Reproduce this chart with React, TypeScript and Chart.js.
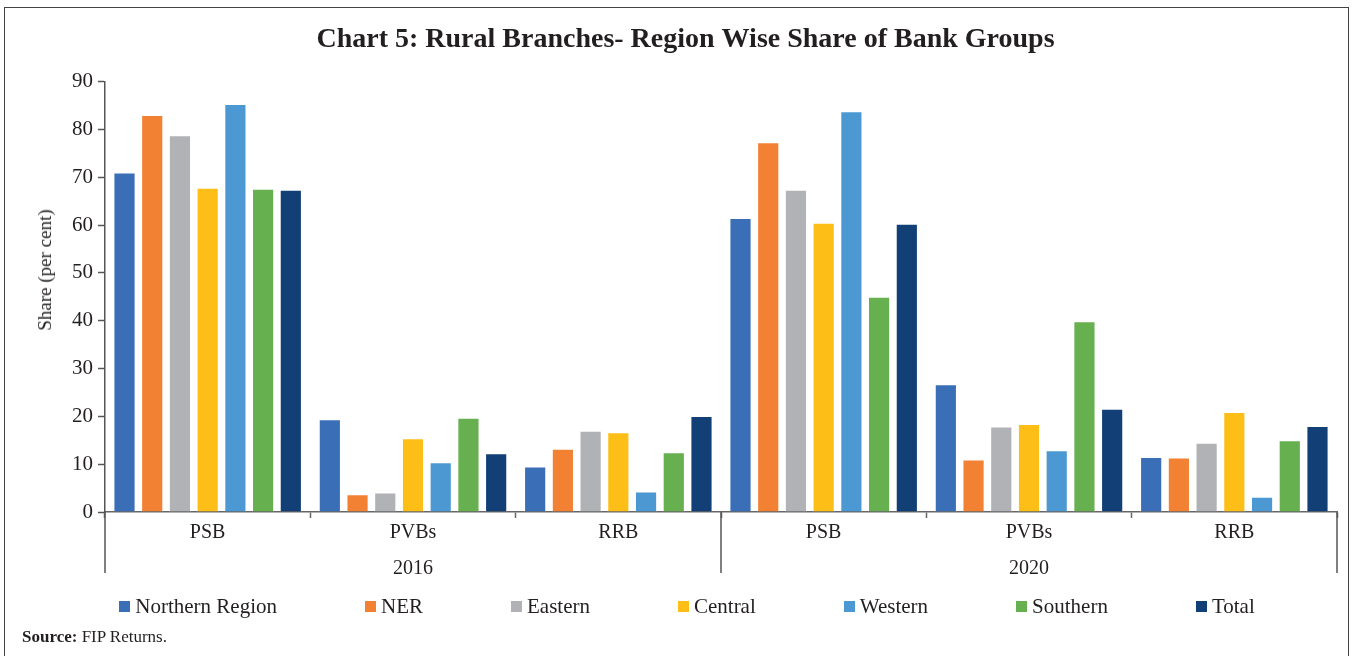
import React, { useEffect, useRef } from 'react';
import { Chart, registerables } from 'chart.js';

Chart.register(...registerables);

const years = ['2016', '2020'];
const bankGroups = ['PSB', 'PVBs', 'RRB'];
const categories = ['PSB', 'PVBs', 'RRB', 'PSB', 'PVBs', 'RRB'];

const seriesNames = ['Northern Region', 'NER', 'Eastern', 'Central', 'Western', 'Southern', 'Total'];
const seriesColors = ['#3A6FB7', '#F28133', '#B1B2B5', '#FDBE18', '#4C98D2', '#66B04F', '#133F77'];

// order: 2016 PSB, PVBs, RRB, 2020 PSB, PVBs, RRB
const northern = [71.0, 19.4, 9.5, 61.5, 26.7, 11.5];
const ner = [83.0, 3.7, 13.2, 77.3, 11.0, 11.4];
const eastern = [78.8, 4.1, 17.0, 67.4, 17.9, 14.5];
const central = [67.8, 15.4, 16.7, 60.5, 18.4, 20.9];
const western = [85.3, 10.4, 4.3, 83.8, 12.9, 3.2];
const southern = [67.6, 19.7, 12.5, 45.0, 39.9, 15.0];
const total = [67.4, 12.3, 20.1, 60.3, 21.6, 18.0];

const seriesValues = [northern, ner, eastern, central, western, southern, total];

const yMin = 0;
const yMax = 90;
const yStep = 10;

const TEXT = '#231f20';
const FONT = "'Liberation Serif', 'Times New Roman', serif";

const groupLines = {
  id: 'groupLines',
  afterDraw(chart: any) {
    const x = chart.scales.x;
    const y = chart.scales.y;
    const x2 = chart.scales.x2;
    const ctx = chart.ctx;
    const per = bankGroups.length;
    ctx.save();
    ctx.strokeStyle = '#555';
    ctx.lineWidth = 1.5;
    for (let g = 0; g <= years.length; g++) {
      const px = x.getPixelForValue(g * per - 0.5);
      ctx.beginPath();
      ctx.moveTo(px, y.bottom);
      ctx.lineTo(px, x2.bottom - 9);
      ctx.stroke();
    }
    ctx.restore();
  },
};

export default function App() {
  const canvasRef = useRef<HTMLCanvasElement | null>(null);

  useEffect(() => {
    if (!canvasRef.current) return;
    Chart.defaults.font.family = FONT;
    Chart.defaults.color = TEXT;
    const chart = new Chart(canvasRef.current, {
      type: 'bar',
      data: {
        labels: categories,
        datasets: seriesNames.map((name, i) => ({
          label: name,
          data: seriesValues[i],
          backgroundColor: seriesColors[i],
          borderColor: 'rgba(255,255,255,0.5)',
          borderWidth: 1,
          categoryPercentage: 0.945,
          barPercentage: 0.8,
        })),
      },
      options: {
        responsive: false,
        animation: false,
        layout: { padding: { left: 34, right: 17, top: 0, bottom: 74 } },
        plugins: {
          legend: { display: false },
          tooltip: { enabled: false },
          title: {
            display: true,
            text: 'Chart 5: Rural Branches- Region Wise Share of Bank Groups',
            color: TEXT,
            font: { family: FONT, size: 28, weight: 'bold' },
            padding: { top: 23, bottom: 25 },
          },
        },
        scales: {
          x: {
            type: 'category',
            offset: true,
            grid: {
              display: true,
              drawOnChartArea: false,
              offset: true,
              tickLength: 6,
              color: '#666',
              tickWidth: 1.5,
            },
            border: { display: true, color: '#666', width: 1.5 },
            ticks: { color: TEXT, font: { family: FONT, size: 20 }, padding: 3, maxRotation: 0, autoSkip: false },
          },
          x2: {
            type: 'category',
            labels: years,
            position: 'bottom',
            offset: true,
            grid: { display: false },
            border: { display: false },
            ticks: { color: TEXT, font: { family: FONT, size: 20 }, padding: 1, maxRotation: 0 },
          },
          y: {
            min: yMin,
            max: yMax,
            position: 'left',
            ticks: { stepSize: yStep, color: TEXT, font: { family: FONT, size: 21 }, padding: 5 },
            grid: {
              display: true,
              drawOnChartArea: false,
              tickLength: 7,
              color: '#555',
              tickWidth: 1.5,
            },
            border: { display: true, color: '#555', width: 1.5 },
            title: { display: false },
            afterFit: (scale: any) => {
              scale.width = 71;
            },
          },
        },
      },
      plugins: [groupLines],
    } as any);
    return () => chart.destroy();
  }, []);

  return (
    <div
      style={{
        position: 'absolute',
        left: 0,
        top: 0,
        width: 1354,
        height: 656,
        overflow: 'hidden',
        background: '#fff',
        fontFamily: FONT,
        color: TEXT,
      }}
    >
      <div
        style={{
          position: 'absolute',
          left: 4,
          top: 7,
          width: 1345,
          height: 700,
          border: '1.5px solid #444',
          boxSizing: 'border-box',
        }}
      />
      <canvas ref={canvasRef} width={1354} height={656} style={{ position: 'absolute', left: 0, top: 0 }} />
      <div
        style={{
          position: 'absolute',
          left: 45,
          top: 270,
          transform: 'translate(-50%, -50%) rotate(-90deg)',
          whiteSpace: 'nowrap',
          fontSize: 19,
          lineHeight: '22px',
        }}
      >
        Share (per cent)
      </div>
      <div
        style={{
          position: 'absolute',
          left: 10,
          width: 1354,
          top: 594,
          height: 24,
          display: 'flex',
          justifyContent: 'center',
          alignItems: 'center',
          gap: 88,
          fontSize: 21,
          lineHeight: '24px',
        }}
      >
        {seriesNames.map((name, i) => (
          <div key={name} style={{ display: 'flex', alignItems: 'center' }}>
            <span
              style={{ display: 'inline-block', width: 11, height: 11, background: seriesColors[i], marginRight: 5 }}
            />
            <span>{name}</span>
          </div>
        ))}
      </div>
      <div style={{ position: 'absolute', left: 22, top: 627, fontSize: 17, lineHeight: '20px' }}>
        <b>Source:</b> FIP Returns.
      </div>
    </div>
  );
}
